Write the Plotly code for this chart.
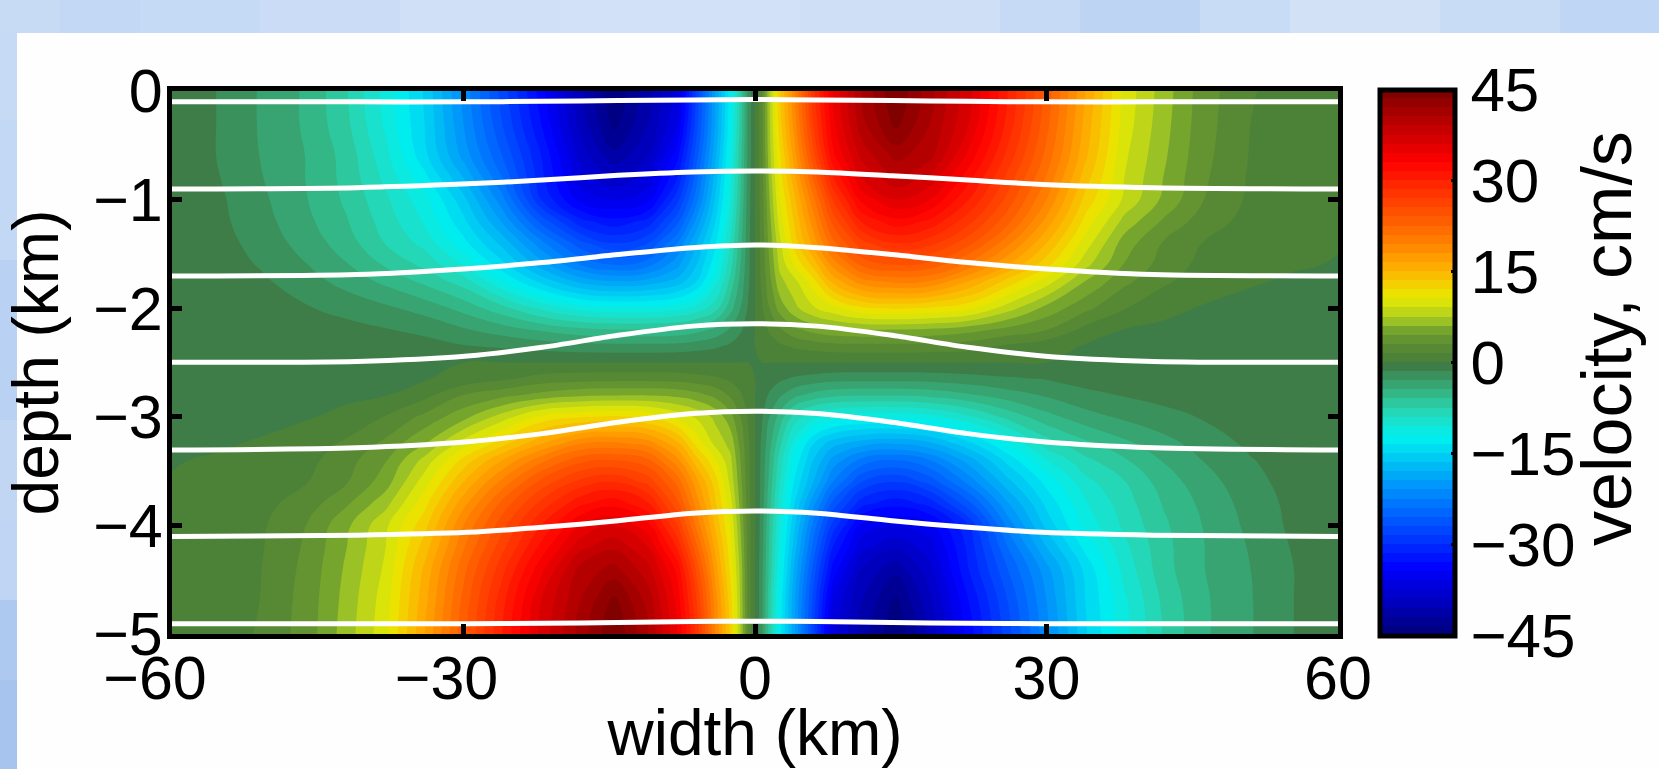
import plotly.graph_objects as go

W, H = 1659, 769

# ---- data ----
width_km = [-60, -55, -51, -46, -42, -38, -34, -30, -26, -22, -18, -14.5, -11, -8, -6, -4, -2.5, -1.5, -0.7, 0,
            0.7, 1.5, 2.5, 4, 6, 8, 11, 14.5, 18, 22, 26, 30, 34, 38, 42, 46, 51, 55, 60]
depth_km = [0, -0.3, -0.6, -0.8, -1, -1.2, -1.4, -1.6, -1.75, -2, -2.2, -2.35, -2.5,
            -2.65, -2.8, -3, -3.25, -3.4, -3.6, -3.8, -4, -4.2, -4.4, -4.7, -5]
velocity_cms = [
 [-.5,-1.6,-3.1,-4.8,-7.4,-11,-15.2,-21.4,-27.6,-33.8,-40,-45,-41,-37,-28,-19,-12.5,-7,-2.5,0, 2.5,7.5,13,19,28,34.5,40.5,45,41,36.5,30,23.5,16.5,10,6.8,3.8,1.6,1,.6],
 [-.5,-1.6,-3.1,-4.8,-7.2,-10.8,-15,-21,-27,-33,-39.5,-44,-40.5,-36,-27.5,-19,-12.3,-7,-2.5,0, 2.5,7.3,12.6,18.5,27,34,40,44,40.5,36,29.5,23,16,9.8,6.6,3.7,1.5,.95,.6],
 [-.5,-1.6,-3,-4.6,-6.6,-10,-14.5,-20,-25.5,-31.5,-38,-41.5,-39,-33.5,-26,-18,-11.5,-6.5,-2.5,0, 2.4,7,11.5,17,25,32.5,38,41,39.5,34,28,22,15.3,9.3,6.3,3.5,1.4,.9,.6],
 [-.5,-1.5,-2.85,-4.6,-6.5,-9.4,-13,-18,-24,-31,-36.8,-38.7,-37,-31.5,-24.5,-17,-11,-6.3,-2.3,0, 2.3,6.5,11,15.8,22.8,29.8,36,38.7,37,32,26.5,20.8,14.2,9,6,3.3,1.3,.8,.5],
 [-.5,-1.3,-2.6,-4.5,-6.3,-8.7,-11.5,-16,-22,-30,-35,-36,-35,-29,-23,-16,-10.5,-6,-2.2,0, 2.2,6,10.3,14.5,20.5,27,33.5,36,34.5,30,25,19.5,13,8.7,5.7,3.1,1.2,.7,.4],
 [-.45,-1.2,-2.35,-4.2,-5.9,-8.2,-10.7,-14.6,-19.7,-26,-31,-32.5,-31,-26,-20.5,-14.8,-9.7,-5.5,-2.1,0, 2.1,5.5,9.5,13.5,18.8,24.5,30.2,32.5,31.2,27.5,23,17.5,11.5,7,4.3,2.3,.95,.5,.2],
 [-.4,-1,-2,-3.7,-5.3,-7.6,-9.5,-13,-17,-22,-26.5,-28.5,-27,-22.5,-18,-13.5,-8.8,-5,-2,0, 2,5,8.5,12.5,17,22,26.5,28.5,27.5,24.5,20,15,9.8,5.3,2.9,1.5,.7,.3,.05],
 [-.4,-.8,-1.6,-3,-4.4,-6.2,-7.9,-10.6,-14.5,-18.8,-22.5,-24,-23,-20,-16.5,-12.3,-8,-4.5,-1.9,0, 1.9,4.5,7.8,10.5,14,18.5,22.8,24,23.5,20.5,16.5,12.5,8,4.4,2.4,1.1,.4,.1,-.05],
 [-.4,-.6,-1.2,-2.4,-3.6,-4.9,-6.4,-8.3,-12,-15.5,-18.5,-19.5,-19,-17.5,-15,-11,-7,-4,-1.8,0, 1.8,4,7,8.5,11.5,15.5,19,20,19.5,16.5,13,9.8,6,3.4,1.8,.7,.1,-.1,-.2],
 [-.3,-.4,-.7,-1.4,-2,-2.7,-3.6,-5,-7,-9.3,-11,-11.5,-11.5,-11,-10,-8,-5,-3,-1.3,0, 1.3,3,5,7,8.8,10,11.7,12.2,11.8,10.9,8.2,5.5,3.4,1.6,.4,-.1,-.3,-.3,-.3],
 [-.3,-.3,-.4,-.7,-1,-1.4,-1.9,-2.8,-3.7,-4.7,-5.5,-5.8,-5.8,-5.6,-5,-4,-2.7,-1.7,-.8,0, .8,1.7,2.7,4,5,5.6,5.9,5.9,5.7,5,4,3,1,-.05,-.3,-.4,-.4,-.4,-.4],
 [-.3,-.3,-.3,-.3,-.5,-.7,-.9,-1.4,-1.7,-2.1,-2.4,-2.5,-2.5,-2.4,-2.1,-1.7,-1.2,-.7,-.3,0, .3,.7,1.2,1.7,2.1,2.4,2.5,2.5,2.4,2.1,1.2,.5,-.1,-.3,-.4,-.4,-.4,-.4,-.4],
 [-.4,-.4,-.4,-.35,-.2,-.05,-.02,-.01,0,0,0,0,0,0,0,0,0,0,0,0, 0,0,0,0,0,0,0,0,0,0,0,-.01,-.02,-.05,-.2,-.35,-.4,-.4,-.4],
 [-.4,-.4,-.4,-.4,-.4,-.3,-.1,.5,1.2,2.1,2.4,2.5,2.5,2.4,2.1,1.7,1.2,.7,.3,0, -.3,-.7,-1.2,-1.7,-2.1,-2.4,-2.5,-2.5,-2.4,-2.1,-1.7,-1.4,-.9,-.7,-.5,-.3,-.3,-.3,-.3],
 [-.4,-.4,-.4,-.4,-.3,-.05,1,3,4,5,5.7,5.9,5.9,5.6,5,4,2.7,1.7,.8,0, -.8,-1.7,-2.7,-4,-5,-5.6,-5.8,-5.8,-5.5,-4.7,-3.7,-2.8,-1.9,-1.4,-1,-.7,-.4,-.3,-.3],
 [-.3,-.3,-.3,-.1,.4,1.6,3.4,5.5,8.2,10.9,11.8,12.2,11.7,10,8.8,7,5,3,1.3,0, -1.3,-3,-5,-8,-10,-11,-11.5,-11.5,-11,-9.3,-7,-5,-3.6,-2.7,-2,-1.4,-.7,-.4,-.3],
 [-.2,-.1,.1,.7,1.8,3.4,6,9.8,13,16.5,19.5,20,19,15.5,11.5,8.5,7,4,1.8,0, -1.8,-4,-7,-11,-15,-17.5,-19,-19.5,-18.5,-15.5,-12,-8.3,-6.4,-4.9,-3.6,-2.4,-1.2,-.6,-.4],
 [-.05,.1,.4,1.1,2.4,4.4,8,12.5,16.5,20.5,23.5,24,22.8,18.5,14,10.5,7.8,4.5,1.9,0, -1.9,-4.5,-8,-12.3,-16.5,-20,-23,-24,-22.5,-18.8,-14.5,-10.6,-7.9,-6.2,-4.4,-3,-1.6,-.8,-.4],
 [.05,.3,.7,1.5,2.9,5.3,9.8,15,20,24.5,27.5,28.5,26.5,22,17,12.5,8.5,5,2,0, -2,-5,-8.8,-13.5,-18,-22.5,-27,-28.5,-26.5,-22,-17,-13,-9.5,-7.6,-5.3,-3.7,-2,-1,-.4],
 [.2,.5,.95,2.3,4.3,7,11.5,17.5,23,27.5,31.2,32.5,30.2,24.5,18.8,13.5,9.5,5.5,2.1,0, -2.1,-5.5,-9.7,-14.8,-20.5,-26,-31,-32.5,-31,-26,-19.7,-14.6,-10.7,-8.2,-5.9,-4.2,-2.35,-1.2,-.45],
 [.4,.7,1.2,3.1,5.7,8.7,13,19.5,25,30,34.5,36,33.5,27,20.5,14.5,10.3,6,2.2,0, -2.2,-6,-10.5,-16,-23,-29,-35,-36,-35,-30,-22,-16,-11.5,-8.7,-6.3,-4.5,-2.6,-1.3,-.5],
 [.5,.8,1.3,3.3,6,9,14.2,20.8,26.5,32,37,38.7,36,29.8,22.8,15.8,11,6.5,2.3,0, -2.3,-6.3,-11,-17,-24.5,-31.5,-37,-38.7,-36.8,-31,-24,-18,-13,-9.4,-6.5,-4.6,-2.85,-1.5,-.5],
 [.6,.9,1.4,3.5,6.3,9.3,15.3,22,28,34,39.5,41,38,32.5,25,17,11.5,7,2.4,0, -2.5,-6.5,-11.5,-18,-26,-33.5,-39,-41.5,-38,-31.5,-25.5,-20,-14.5,-10,-6.6,-4.6,-3,-1.6,-.5],
 [.6,.95,1.5,3.7,6.6,9.8,16,23,29.5,36,40.5,44,40,34,27,18.5,12.6,7.3,2.5,0, -2.5,-7,-12.3,-19,-27.5,-36,-40.5,-44,-39.5,-33,-27,-21,-15,-10.8,-7.2,-4.8,-3.1,-1.6,-.5],
 [.6,1,1.6,3.8,6.8,10,16.5,23.5,30,36.5,41,45,40.5,34.5,28,19,13,7.5,2.5,0, -2.5,-7,-12.5,-19,-28,-37,-41,-45,-40,-33.8,-27.6,-21.4,-15.2,-11,-7.4,-4.8,-3.1,-1.6,-.5],
]

stream_x = [-60, -41, -29.6, -21.9, -14.1, -6.4, 0, 6.4, 14.1, 21.9, 29.6, 41, 60]
stream_1 = [-.10, -.10, -.10, -.095, -.088, -.082, -.079, -.082, -.088, -.095, -.10, -.10, -.10]
stream_2 = [-.903, -.89, -.855, -.82, -.776, -.745, -.736, -.745, -.78, -.82, -.86, -.89, -.903]
stream_3 = [-1.703, -1.69, -1.636, -1.58, -1.506, -1.443, -1.418, -1.443, -1.506, -1.58, -1.636, -1.69, -1.703]
stream_4 = [-2.497, -2.49, -2.44, -2.36, -2.25, -2.165, -2.143, -2.165, -2.25, -2.36, -2.44, -2.49, -2.497]
stream_5 = [-3.306, -3.285, -3.23, -3.155, -3.05, -2.97, -2.948, -2.97, -3.05, -3.155, -3.23, -3.285, -3.306]
stream_6 = [-4.103, -4.09, -4.064, -4.018, -3.957, -3.888, -3.867, -3.888, -3.957, -4.018, -4.064, -4.09, -4.103]
stream_7 = [-4.906, -4.906, -4.905, -4.90, -4.895, -4.885, -4.882, -4.885, -4.895, -4.90, -4.905, -4.906, -4.906]
streamlines = [stream_1, stream_2, stream_3, stream_4, stream_5, stream_6, stream_7]

x_ticks = [-60, -30, 0, 30, 60]
x_tick_text = ["\u221260\u00a0\u00a0", "\u221230\u00a0\u00a0", "0", "30", "60"]
y_ticks = [0, -1, -2, -3, -4, -5]
cbar_ticks = [-45, -30, -15, 0, 15, 30, 45]

scale_values = [-45, -40, -34, -24, -12.5, -9, -6, -3, -0.75, 0.75, 3, 5, 7, 9, 10.7, 13, 16, 22, 28, 33, 39, 45]
scale_colors = ["rgb(0,0,120)", "rgb(0,0,185)", "rgb(0,0,255)", "rgb(0,110,255)", "rgb(0,240,240)",
                "rgb(30,222,195)", "rgb(50,192,145)", "rgb(58,155,102)", "rgb(62,125,72)", "rgb(76,130,56)",
                "rgb(92,140,50)", "rgb(112,160,48)", "rgb(160,198,35)", "rgb(208,224,15)", "rgb(232,232,0)",
                "rgb(245,205,0)", "rgb(255,170,0)", "rgb(255,105,0)", "rgb(255,50,0)", "rgb(255,0,0)",
                "rgb(190,0,0)", "rgb(120,0,0)"]
colorscale = [[(v + 45) / 90, c] for v, c in zip(scale_values, scale_colors)]

# frame behind the white panel (piecewise tints of the page background)
top_edges = [0, 60, 140, 260, 400, 560, 800, 1000, 1080, 1200, 1290, 1440, 1560, 1659]
top_tints = ["#C8DBF5", "#C2D8F4", "#C5DAF4", "#CBDDF6", "#CFE0F7", "#D2E1F7", "#CFE0F6", "#C6DAF5",
             "#BDD4F3", "#C9DCF5", "#D2E1F5", "#C9DCF5", "#BFD6F4"]
left_edges = [33, 120, 260, 420, 520, 600, 680, 769]
left_tints = ["#C6DAF5", "#C2D8F4", "#B9D1F2", "#C1D6F3", "#BFD5F3", "#ADC9EF", "#A6C4EE"]

fig = go.Figure()
fig.add_trace(go.Contour(
    x=width_km, y=depth_km, z=velocity_cms,
    colorscale=colorscale, zmin=-45, zmax=45,
    contours=dict(start=-45, end=45, size=1.5, coloring="fill", showlines=False),
    line=dict(width=0, smoothing=1.3),
    colorbar=dict(
        x=1379.5 / W, xanchor="left", xpad=0, ypad=0,
        y=1 - 362.5 / H, yanchor="middle", len=546 / H, lenmode="fraction",
        thickness=75, thicknessmode="pixels",
        outlinecolor="black", outlinewidth=5, borderwidth=0,
        tickvals=cbar_ticks, ticks="inside", ticklen=6, tickwidth=3, tickcolor="black",
        tickfont=dict(family="Liberation Sans", size=62, color="black"),
    ),
    showscale=True, hoverinfo="skip",
))
for s in streamlines:
    fig.add_trace(go.Scatter(x=stream_x, y=s, mode="lines", showlegend=False, hoverinfo="skip",
                             line=dict(color="white", width=5, shape="spline", smoothing=0.8)))

shapes = []
for i, c in enumerate(top_tints):
    shapes.append(dict(type="rect", xref="paper", yref="paper", layer="below",
                       x0=top_edges[i] / W, x1=top_edges[i + 1] / W, y0=1 - 33 / H, y1=1,
                       fillcolor=c, line_width=0))
for i, c in enumerate(left_tints):
    shapes.append(dict(type="rect", xref="paper", yref="paper", layer="below",
                       x0=0, x1=17 / W, y0=1 - left_edges[i + 1] / H, y1=1 - left_edges[i] / H,
                       fillcolor=c, line_width=0))

title_font = dict(family="Liberation Sans", size=64, color="black")
tick_font = dict(family="Liberation Sans", size=61, color="black")
fig.update_layout(
    width=W, height=H, margin=dict(l=0, r=0, t=0, b=0, autoexpand=False), autosize=False,
    paper_bgcolor="#FEFEFE", plot_bgcolor="#4A8040", showlegend=False,
    font=dict(family="Liberation Sans", color="black"),
    shapes=shapes,
    xaxis=dict(domain=[172 / W, 1338 / W], range=[-60, 60], tickvals=x_ticks, ticktext=x_tick_text,
               ticks="inside", ticklen=10, tickwidth=5, tickcolor="black", showline=True, linecolor="black",
               linewidth=5, mirror="ticks", showgrid=False, zeroline=False, tickfont=tick_font,
               ticklabelstandoff=-13,
               title=dict(text="width (km)", font=title_font, standoff=37)),
    yaxis=dict(domain=[1 - 634 / H, 1 - 91 / H], range=[-5, 0], tickvals=y_ticks,
               ticks="inside", ticklen=10, tickwidth=5, tickcolor="black", showline=True, linecolor="black",
               linewidth=5, mirror="ticks", showgrid=False, zeroline=False, tickfont=tick_font,
               ticklabelstandoff=-8,
               title=dict(text="depth (km)", font=title_font, standoff=18)),
    annotations=[dict(text="velocity, cm/s", xref="paper", yref="paper", x=1607 / W, y=1 - 339 / H,
                      xanchor="center", yanchor="middle", textangle=-90, showarrow=False,
                      font=dict(family="Liberation Sans", size=70, color="black"))],
)
fig.write_html("out.html", config={"displayModeBar": False},
               post_script="document.body.style.margin='0';document.body.style.overflow='hidden';")
